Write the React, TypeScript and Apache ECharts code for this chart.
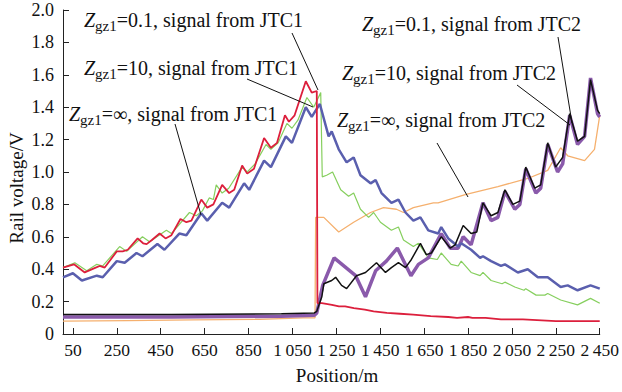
import React, { useEffect, useRef } from "react";
import * as echarts from "echarts";

// ---- data (position in m, rail voltage in V) ----
const xTicks = [50, 250, 450, 650, 850, 1050, 1250, 1450, 1650, 1850, 2050, 2250, 2450];

const redJTC1: [number, number][] = [
  [5, 0.41], [55, 0.43], [104, 0.38], [154, 0.41], [172, 0.42], [195, 0.41], [250, 0.51], [277, 0.51], [300, 0.52],
  [345, 0.59], [370, 0.56], [386, 0.555], [410, 0.58], [445, 0.62], [472, 0.59], [499, 0.61], [540, 0.71], [567, 0.69],
  [590, 0.7], [635, 0.83], [662, 0.78], [690, 0.8], [730, 0.92], [762, 0.87], [785, 0.89], [821, 1.04], [844, 0.99],
  [875, 1.02], [921, 1.21], [952, 1.15], [980, 1.18], [1016, 1.35], [1034, 1.31], [1060, 1.35], [1111, 1.56],
  [1138, 1.49], [1161, 1.5], [1164, 0.19], [1184, 0.19], [1230, 0.18], [1262, 0.17], [1290, 0.17], [1330, 0.16],
  [1380, 0.15], [1420, 0.14], [1480, 0.13], [1540, 0.125], [1600, 0.12], [1680, 0.11], [1760, 0.105], [1800, 0.1],
  [1850, 0.105], [1870, 0.1], [1930, 0.1], [2000, 0.09], [2100, 0.09], [2250, 0.08], [2450, 0.08],
];

const greenJTC1: [number, number][] = [
  [5, 0.41], [59, 0.44], [113, 0.39], [159, 0.43], [186, 0.42], [263, 0.54], [295, 0.51], [367, 0.6], [399, 0.57],
  [476, 0.64], [499, 0.62], [581, 0.75], [612, 0.73], [640, 0.76], [671, 0.84], [690, 0.83], [703, 0.92], [730, 0.87],
  [760, 0.9], [821, 1.03], [844, 1.0], [880, 1.05], [930, 1.17], [952, 1.14], [985, 1.18], [1025, 1.3], [1048, 1.27],
  [1075, 1.32], [1116, 1.46], [1147, 1.4], [1179, 1.49], [1186, 0.97], [1206, 0.98], [1233, 1.0], [1270, 0.89],
  [1306, 0.85], [1329, 0.87], [1360, 0.77], [1397, 0.72], [1420, 0.75], [1451, 0.69], [1501, 0.64], [1533, 0.66],
  [1556, 0.58], [1601, 0.54], [1624, 0.56], [1669, 0.47], [1710, 0.46], [1728, 0.5], [1773, 0.43], [1805, 0.42],
  [1819, 0.45], [1864, 0.38], [1905, 0.36], [1918, 0.38], [1955, 0.33], [2005, 0.31], [2018, 0.32], [2063, 0.29],
  [2105, 0.27], [2113, 0.28], [2160, 0.24], [2200, 0.24], [2213, 0.25], [2272, 0.21], [2349, 0.18], [2408, 0.22],
  [2450, 0.19],
];

const blueJTC1: [number, number][] = [
  [5, 0.35], [50, 0.375], [91, 0.33], [159, 0.36], [186, 0.35], [250, 0.45], [286, 0.44], [340, 0.5], [367, 0.48],
  [435, 0.555], [467, 0.52], [535, 0.62], [567, 0.61], [635, 0.745], [662, 0.7], [730, 0.81], [762, 0.78], [830, 0.93],
  [853, 0.89], [921, 1.07], [952, 1.03], [1020, 1.22], [1048, 1.18], [1111, 1.4], [1138, 1.34], [1175, 1.42],
  [1215, 1.22], [1229, 1.25], [1261, 1.14], [1297, 1.06], [1329, 1.09], [1360, 0.98], [1406, 0.93], [1429, 0.95],
  [1456, 0.87], [1501, 0.81], [1533, 0.83], [1565, 0.75], [1601, 0.7], [1633, 0.72], [1669, 0.64], [1714, 0.62],
  [1728, 0.66], [1760, 0.59], [1805, 0.54], [1819, 0.56], [1864, 0.52], [1905, 0.47], [1918, 0.48], [1955, 0.45],
  [2000, 0.42], [2018, 0.43], [2077, 0.38], [2122, 0.4], [2168, 0.35], [2213, 0.35], [2272, 0.29], [2304, 0.3],
  [2349, 0.27], [2408, 0.3], [2450, 0.28],
];

const orangeJTC2: [number, number][] = [
  [5, 0.08], [300, 0.083], [600, 0.087], [900, 0.09], [1100, 0.1], [1153, 0.1], [1156, 0.72], [1193, 0.72],
  [1261, 0.63], [1329, 0.69], [1406, 0.75], [1465, 0.78], [1524, 0.77], [1556, 0.75], [1601, 0.78], [1692, 0.81],
  [1714, 0.81], [1837, 0.86], [1986, 0.91], [2122, 0.96], [2213, 1.01], [2272, 1.15], [2304, 1.1], [2381, 1.07],
  [2426, 1.14], [2450, 1.35],
];

const purpleJTC2: [number, number][] = [
  [5, 0.105], [500, 0.105], [1000, 0.11], [1150, 0.115], [1161, 0.13], [1188, 0.3], [1240, 0.47], [1338, 0.36],
  [1383, 0.23], [1429, 0.39], [1478, 0.45], [1528, 0.53], [1590, 0.36], [1624, 0.43], [1669, 0.47], [1728, 0.62],
  [1769, 0.53], [1805, 0.53], [1828, 0.6], [1864, 0.55], [1918, 0.81], [1955, 0.7], [1986, 0.72], [2018, 0.88],
  [2063, 0.77], [2086, 0.8], [2113, 1.02], [2159, 0.87], [2181, 0.9], [2213, 1.17], [2258, 1.0], [2281, 1.05],
  [2313, 1.35], [2349, 1.17], [2381, 1.22], [2408, 1.58], [2440, 1.36], [2450, 1.34],
];

const blackJTC2: [number, number][] = [
  [5, 0.12], [500, 0.12], [1000, 0.125], [1150, 0.13], [1161, 0.14], [1184, 0.23], [1193, 0.31], [1229, 0.33],
  [1247, 0.35], [1274, 0.3], [1297, 0.28], [1342, 0.36], [1383, 0.38], [1433, 0.44], [1474, 0.38], [1501, 0.41],
  [1533, 0.44], [1565, 0.41], [1592, 0.46], [1633, 0.56], [1660, 0.49], [1683, 0.5], [1728, 0.6], [1769, 0.53],
  [1791, 0.55], [1828, 0.67], [1864, 0.62], [1890, 0.63], [1918, 0.81], [1955, 0.73], [1986, 0.75], [2018, 0.89],
  [2054, 0.8], [2086, 0.82], [2113, 1.03], [2154, 0.9], [2181, 0.92], [2213, 1.18], [2249, 1.03], [2281, 1.09],
  [2313, 1.36], [2349, 1.19], [2381, 1.22], [2408, 1.57], [2440, 1.38], [2450, 1.36],
];

const FONT = "'Liberation Serif', 'Times New Roman', serif";

function label(zval: string, jtc: string) {
  return {
    text: `{z|Z}{s|gz1}{t|=${zval}, signal from ${jtc}}`,
    rich: {
      z: { fontStyle: "italic", fontSize: 20, fontFamily: FONT, lineHeight: 26, fill: "#111", verticalAlign: "middle" },
      s: { fontSize: 15, fontFamily: FONT, lineHeight: 15, fill: "#111", verticalAlign: "bottom" },
      t: { fontSize: 20, fontFamily: FONT, lineHeight: 26, fill: "#111", verticalAlign: "middle" },
    },
    align: "left",
    verticalAlign: "middle",
  };
}

const annotations = [
  { x: 84, y: 20, z: "0.1", jtc: "JTC1", line: [292, 33, 318, 90] },
  { x: 84, y: 68, z: "10", jtc: "JTC1", line: [247, 79, 313, 107] },
  { x: 69, y: 114, z: "∞", jtc: "JTC1", line: [175, 124, 201, 215] },
  { x: 362, y: 24, z: "0.1", jtc: "JTC2", line: [558, 37, 572, 123] },
  { x: 342, y: 73, z: "10", jtc: "JTC2", line: [517, 85, 570, 125] },
  { x: 337, y: 120, z: "∞", jtc: "JTC2", line: [437, 143, 468, 197] },
];

export default function App() {
  const ref = useRef<HTMLDivElement>(null);
  useEffect(() => {
    document.body.style.margin = "0";
    if (!ref.current) return;
    const chart = echarts.init(ref.current, null, { renderer: "svg" });
    const graphics: any[] = [];
    annotations.forEach((a) => {
      graphics.push({ type: "text", x: a.x, y: a.y, style: label(a.z, a.jtc), z: 100 });
      graphics.push({
        type: "line",
        shape: { x1: a.line[0], y1: a.line[1], x2: a.line[2], y2: a.line[3] },
        style: { stroke: "#111", lineWidth: 1 },
        z: 100,
      });
    });
    graphics.push({
      type: "text",
      x: 16,
      y: 188,
      rotation: Math.PI / 2,
      style: { text: "Rail voltage/V", fontFamily: FONT, fontSize: 19, fill: "#111", align: "center", verticalAlign: "middle" },
    });
    graphics.push({
      type: "text",
      x: 337,
      y: 375,
      style: { text: "Position/m", fontFamily: FONT, fontSize: 19, fill: "#111", align: "center", verticalAlign: "middle" },
    });
    const mk = (data: [number, number][], color: string, width: number) => ({
      type: "line",
      data,
      showSymbol: false,
      symbol: "none",
      lineStyle: { color, width },
      itemStyle: { color },
      emphasis: { disabled: true },
    });
    chart.setOption({
      animation: false,
      backgroundColor: "#ffffff",
      grid: { left: 63, right: 20, top: 10, bottom: 58 },
      xAxis: {
        type: "value",
        min: 5,
        max: 2450,
        axisLine: { lineStyle: { color: "#222", width: 1 } },
        axisTick: { inside: true, length: 6, customValues: xTicks, lineStyle: { color: "#222" } },
        axisLabel: {
          customValues: xTicks,
          fontFamily: FONT,
          fontSize: 17.5,
          color: "#111",
          margin: 7,
          formatter: (v: number) =>
            v >= 1000 ? `${Math.floor(v / 1000)}\u2009${String(v % 1000).padStart(3, "0")}` : `${v}`,
        },
        splitLine: { show: false },
      },
      yAxis: {
        type: "value",
        min: 0,
        max: 2,
        interval: 0.2,
        axisLine: { show: true, lineStyle: { color: "#222", width: 1 } },
        axisTick: { show: true, inside: true, length: 6, lineStyle: { color: "#222" } },
        axisLabel: {
          fontFamily: FONT,
          fontSize: 18,
          color: "#111",
          margin: 9,
          formatter: (v: number) => (Math.abs(v) < 1e-9 ? "0" : v.toFixed(1)),
        },
        splitLine: { show: false },
      },
      series: [
        mk(orangeJTC2, "#f5b06e", 1.3),
        mk(greenJTC1, "#86cf5e", 1.2),
        mk(purpleJTC2, "#8a5aab", 3.5),
        mk(blueJTC1, "#5a5fae", 2.5),
        mk(redJTC1, "#dc1f3c", 1.8),
        mk(blackJTC2, "#111111", 1.5),
      ],
      graphic: graphics,
    });
    return () => chart.dispose();
  }, []);
  return <div ref={ref} style={{ width: 622, height: 392 }} />;
}
